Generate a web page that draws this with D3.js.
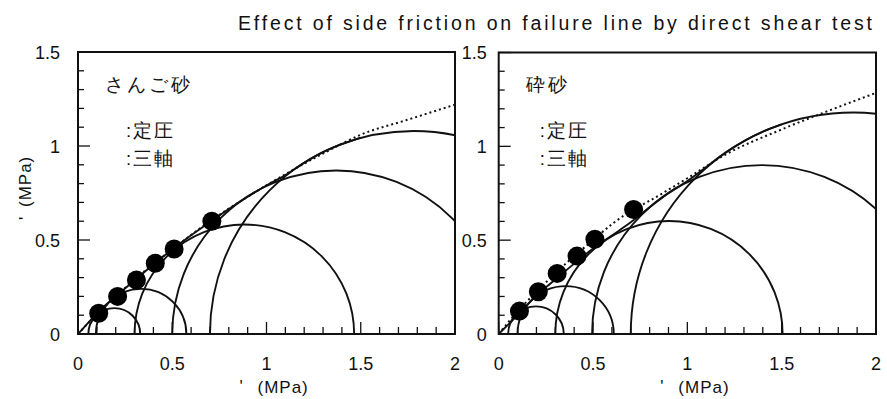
<!DOCTYPE html>
<html><head><meta charset="utf-8">
<script src="https://cdn.jsdelivr.net/npm/d3@7"></script>
<style>
html,body{margin:0;padding:0;background:#fff;}
svg text{font-family:"Liberation Sans",Arial,sans-serif;fill:#111;}
</style></head>
<body><svg id="c" width="887" height="399"></svg>
<script>
const titleText = "Effect of side friction on failure line by direct shear test";
const xTicks = [0, 0.5, 1, 1.5, 2];
const xTickLabels = ["0", "0.5", "1", "1.5", "2"];
const yTicks = [0, 0.5, 1, 1.5];
const yTickLabels = ["0", "0.5", "1", "1.5"];
const minorStep = 0.1;

// Panel 1: coral sand
const coralName = "さんご砂";
const coralShearSigma = [0.11, 0.21, 0.31, 0.41, 0.51, 0.71];
const coralShearTau   = [0.11, 0.20, 0.287, 0.376, 0.452, 0.60];
const coralCircleS3 = [0.055, 0.095, 0.30, 0.50, 0.70];
const coralCircleS1 = [0.33, 0.575, 1.465, 2.24, 2.86];
const coralTriaxEnvSigma = [0, 0.05, 0.1, 0.2, 0.3, 0.4, 0.5, 0.6, 0.7, 0.8, 0.9, 1.0, 1.1, 1.2, 1.3, 1.4, 1.5];
const coralTriaxEnvTau   = [0, 0.055, 0.11, 0.2, 0.285, 0.37, 0.45, 0.525, 0.595, 0.665, 0.73, 0.79, 0.845, 0.91, 0.967, 1.01, 1.045];
const coralShearEnvSigma = [0, 0.1, 0.2, 0.3, 0.4, 0.5, 0.7, 0.9, 1.1, 1.3, 1.5, 1.75, 2.0];
const coralShearEnvTau   = [0, 0.105, 0.2, 0.29, 0.372, 0.45, 0.6, 0.73, 0.85, 0.96, 1.06, 1.14, 1.22];

// Panel 2: crushed sand
const crushedName = "砕砂";
const crushedShearSigma = [0.11, 0.21, 0.31, 0.415, 0.51, 0.715];
const crushedShearTau   = [0.122, 0.225, 0.323, 0.415, 0.505, 0.663];
const crushedCircleS3 = [0.05, 0.10, 0.30, 0.495, 0.70];
const crushedCircleS1 = [0.345, 0.61, 1.505, 2.295, 3.06];
const crushedTriaxEnvSigma = [0, 0.05, 0.1, 0.2, 0.3, 0.4, 0.5, 0.6, 0.7, 0.8, 0.9, 1.0, 1.1, 1.2, 1.3, 1.4, 1.5];
const crushedTriaxEnvTau   = [0, 0.05, 0.1, 0.205, 0.29, 0.375, 0.455, 0.525, 0.595, 0.675, 0.75, 0.815, 0.89, 0.965, 1.028, 1.078, 1.117];
const crushedShearEnvSigma = [0, 0.1, 0.2, 0.3, 0.4, 0.5, 0.6, 0.7, 0.8, 1.0, 1.2, 1.5, 1.75, 2.0];
const crushedShearEnvTau   = [0, 0.12, 0.225, 0.323, 0.415, 0.5, 0.585, 0.655, 0.71, 0.83, 0.955, 1.09, 1.19, 1.285];

const legendShear = ":定圧";
const legendTriax = ":三軸";
const axisUnit = "(MPa)";
const prime = "'";

const svg = d3.select("#c");
svg.append("text").attr("x", 238).attr("y", 30).attr("font-size", 19.5)
  .attr("textLength", 634).attr("lengthAdjust", "spacing").text(titleText);

const panels = [
  {x0: 78, x1: 455, y0: 334, y1: 52, name: coralName, lab: 18,
   ss: coralShearSigma, st: coralShearTau, c3: coralCircleS3, c1: coralCircleS1,
   tes: coralTriaxEnvSigma, tet: coralTriaxEnvTau, ses: coralShearEnvSigma, set: coralShearEnvTau, ytitle: true},
  {x0: 498.7, x1: 876, y0: 334, y1: 52.5, name: crushedName, lab: 12,
   ss: crushedShearSigma, st: crushedShearTau, c3: crushedCircleS3, c1: crushedCircleS1,
   tes: crushedTriaxEnvSigma, tet: crushedTriaxEnvTau, ses: crushedShearEnvSigma, set: crushedShearEnvTau, ytitle: false}
];

panels.forEach((p, i) => {
  const x = d3.scaleLinear().domain([0, 2]).range([p.x0, p.x1]);
  const y = d3.scaleLinear().domain([0, 1.5]).range([p.y0, p.y1]);
  const g = svg.append("g");
  const cid = "clip" + i;
  svg.append("defs").append("clipPath").attr("id", cid).append("rect")
    .attr("x", p.x0).attr("y", p.y1).attr("width", p.x1 - p.x0).attr("height", p.y0 - p.y1);
  const plot = g.append("g").attr("clip-path", `url(#${cid})`);

  const xMinor = d3.range(0, 2 + 1e-9, minorStep);
  const yMinor = d3.range(0, 1.5 + 1e-9, minorStep);
  const isMajor = v => Math.abs(v * 2 - Math.round(v * 2)) < 1e-6;
  g.selectAll(".xt").data(xMinor).join("line")
    .attr("x1", d => x(d)).attr("x2", d => x(d))
    .attr("y1", p.y0).attr("y2", d => p.y0 - (isMajor(d) ? 12 : 7))
    .attr("stroke", "#111").attr("stroke-width", 1.3);
  g.selectAll(".yt").data(yMinor).join("line")
    .attr("y1", d => y(d)).attr("y2", d => y(d))
    .attr("x1", p.x0).attr("x2", d => p.x0 + (isMajor(d) ? 12 : 6))
    .attr("stroke", "#111").attr("stroke-width", 1.3);

  plot.selectAll(".mc").data(p.c3.map((s3, k) => [s3, p.c1[k]])).join("path")
    .attr("d", d => {
      const c = (d[0] + d[1]) / 2, r = (d[1] - d[0]) / 2;
      const rx = x(c + r) - x(c), ry = y(0) - y(r);
      return `M${x(d[0])},${y(0)} A${rx},${ry} 0 0 1 ${x(d[1])},${y(0)}`;
    })
    .attr("fill", "none").attr("stroke", "#111").attr("stroke-width", 1.9);

  const line = d3.line().x(d => x(d[0])).y(d => y(d[1])).curve(d3.curveMonotoneX);
  plot.append("path").datum(p.tes.map((s, k) => [s, p.tet[k]])).attr("d", line)
    .attr("fill", "none").attr("stroke", "#111").attr("stroke-width", 1.9);
  plot.append("path").datum(p.ses.map((s, k) => [s, p.set[k]])).attr("d", line)
    .attr("fill", "none").attr("stroke", "#111").attr("stroke-width", 2)
    .attr("stroke-dasharray", "2,3");

  plot.selectAll(".pt").data(p.ss.map((s, k) => [s, p.st[k]])).join("circle")
    .attr("cx", d => x(d[0])).attr("cy", d => y(d[1])).attr("r", 9.5).attr("fill", "#000");

  g.append("rect").attr("x", p.x0).attr("y", p.y1).attr("width", p.x1 - p.x0).attr("height", p.y0 - p.y1)
    .attr("fill", "none").attr("stroke", "#111").attr("stroke-width", 2);

  g.selectAll(".xl").data(xTicks).join("text")
    .attr("x", d => x(d)).attr("y", 370).attr("text-anchor", "middle").attr("font-size", 18)
    .text((d, k) => xTickLabels[k]);
  g.selectAll(".yl").data(yTicks).join("text")
    .attr("x", p.x0 - p.lab).attr("y", d => y(d) + 6.5).attr("text-anchor", "end").attr("font-size", 18)
    .text((d, k) => yTickLabels[k]);

  const xc = (p.x0 + p.x1) / 2;
  g.append("text").attr("x", xc - 27).attr("y", 392).attr("font-size", 17).text(prime);
  g.append("text").attr("x", xc - 9).attr("y", 393).attr("font-size", 17).attr("letter-spacing", 1).text(axisUnit);
  if (p.ytitle) {
    g.append("text").attr("transform", "translate(31,220) rotate(-90)").attr("font-size", 17).text(prime);
    g.append("text").attr("transform", "translate(31,207) rotate(-90)").attr("font-size", 17).attr("letter-spacing", 1).text(axisUnit);
  }

  const jp = `"Noto Sans CJK JP", sans-serif`;
  g.append("text").attr("x", p.x0 + 27).attr("y", 91).attr("font-size", 18.5)
    .attr("font-family", jp).attr("letter-spacing", 3).text(p.name);
  g.append("text").attr("x", p.x0 + (i === 0 ? 48 : 41)).attr("y", 137).attr("font-size", 18.5)
    .attr("font-family", jp).attr("letter-spacing", 2).text(legendShear);
  g.append("text").attr("x", p.x0 + (i === 0 ? 48 : 41)).attr("y", 165).attr("font-size", 18.5)
    .attr("font-family", jp).attr("letter-spacing", 2).text(legendTriax);
});
</script></body></html>
